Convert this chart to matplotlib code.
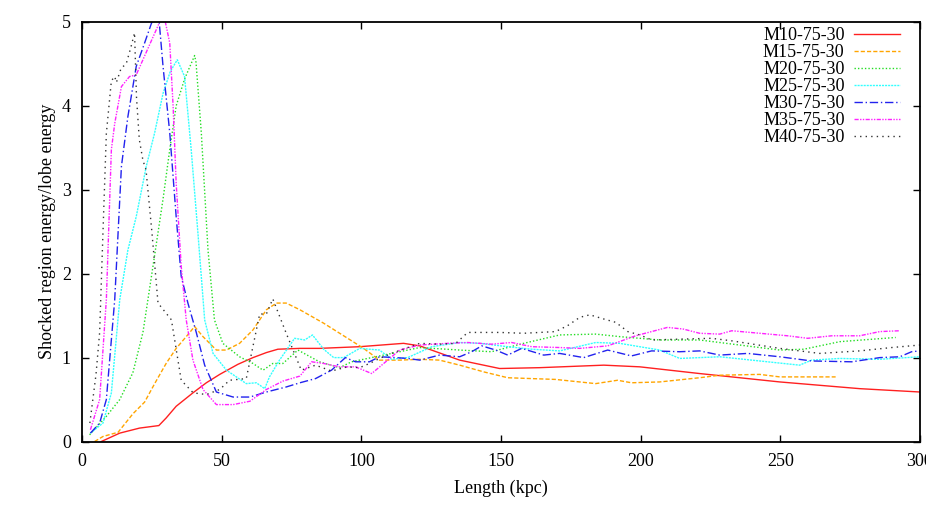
import matplotlib
matplotlib.use("Agg")
import matplotlib.pyplot as plt

plt.rcParams['font.family'] = ['Liberation Serif', 'DejaVu Serif']

labels = ["M10-75-30", "M15-75-30", "M20-75-30", "M25-75-30",
          "M30-75-30", "M35-75-30", "M40-75-30"]

# M10-75-30
x10 = [6.9, 13.5, 20.6, 27.5, 30.1, 33.7, 39.7, 44.5, 49.3, 55.8, 61.2, 66, 70.1, 78, 85,
       99.4, 115.1, 120.9, 135.2, 149.5, 163.8, 186.8, 199.7, 221.1, 249.8, 278.4, 300]
y10 = [0, 0.10, 0.16, 0.19, 0.28, 0.42, 0.58, 0.70, 0.80, 0.92, 1.0, 1.06, 1.10, 1.11, 1.11,
       1.13, 1.17, 1.14, 0.97, 0.87, 0.88, 0.91, 0.89, 0.81, 0.71, 0.63, 0.59]

# M15-75-30
x15 = [4.5, 7.5, 12.9, 18.2, 22.4, 26, 30.1, 33.7, 37.3, 40.3, 43.3, 48.1, 51.7, 56.4, 61.2,
       66, 69.6, 73.1, 78, 86.5, 95.1, 100.8, 106.5, 113.7, 120.9, 128, 135.2, 143.8, 152.4,
       169.5, 183.9, 191.7, 196.7, 206.8, 221.1, 228.3, 242.6, 249.8, 269.8]
y15 = [0, 0.06, 0.11, 0.33, 0.47, 0.69, 0.93, 1.11, 1.25, 1.37, 1.25, 1.09, 1.09, 1.17, 1.33,
       1.57, 1.65, 1.65, 1.57, 1.41, 1.23, 1.11, 0.97, 0.97, 0.98, 0.97, 0.91, 0.83, 0.76,
       0.74, 0.69, 0.73, 0.70, 0.71, 0.76, 0.79, 0.80, 0.77, 0.77]

# M20-75-30
x20 = [2.7, 8.7, 13.5, 18.2, 21.8, 25.4, 29, 31.4, 33.7, 36.7, 40.3, 40.8, 42.7, 45.1, 47.4,
       50.4, 56.4, 61.2, 64.8, 68.3, 71.9, 77.3, 85, 92.2, 96.5, 106.5, 120.9, 135.2, 146.6,
       158.1, 171, 183.9, 192.5, 206.8, 221.1, 235.4, 249.8, 258.4, 271.3, 291.3]
y20 = [0.08, 0.30, 0.50, 0.82, 1.30, 2.09, 2.89, 3.48, 4.0, 4.32, 4.6, 4.52, 3.68, 2.28, 1.45,
       1.17, 1.01, 0.93, 0.85, 0.93, 0.93, 1.09, 0.95, 0.88, 0.95, 1.02, 1.12, 1.09, 1.07,
       1.17, 1.27, 1.28, 1.25, 1.21, 1.21, 1.15, 1.09, 1.10, 1.19, 1.24]

# M25-75-30
x25 = [3, 7.5, 10.5, 13.5, 16.4, 19.4, 23, 26, 29, 31.6, 34.1, 36.7, 39.1, 41.5, 43.9, 46.9,
       51.7, 58.8, 62.4, 65.4, 67.1, 70.7, 76.1, 79.7, 82.5, 86.5, 90.1, 93.7, 99.4, 106.5,
       110.8, 116.6, 125.2, 135.2, 142.4, 152.4, 161, 171, 183.9, 192.5, 206.8, 214, 228.3,
       242.6, 256.9, 261.2, 271.3, 285.6, 300]
y25 = [0.1, 0.22, 0.58, 1.69, 2.28, 2.68, 3.28, 3.68, 4.15, 4.41, 4.55, 4.35, 3.47, 2.48, 1.45,
       1.05, 0.85, 0.69, 0.70, 0.63, 0.77, 0.97, 1.23, 1.21, 1.27, 1.10, 1.0, 1.0, 1.11, 1.09,
       0.98, 1.0, 1.13, 1.18, 1.17, 1.13, 1.10, 1.08, 1.18, 1.17, 1.09, 0.99, 1.01,
       0.96, 0.91, 0.97, 0.99, 0.98, 1.01]

# M30-75-30
x30 = [3, 6.3, 8.7, 11.7, 14.1, 16.4, 19.4, 22.4, 24.8, 26.5, 27.5, 29, 31.4, 33.7, 35.5,
       37.9, 40.9, 43.9, 48.1, 54.1, 60.1, 66, 73.1, 78, 83.6, 89.3, 94.3, 97.9, 102.9, 106.5,
       112.3, 116.6, 120.9, 128, 135.2, 139.5, 143.1, 148.1, 152.4, 157.4, 165.3, 171, 179.6,
       188.2, 196.7, 203.9, 214, 221.1, 228.3, 238.3, 249.8, 261.2, 275.6, 285.6, 292.8, 297,
       300]
y30 = [0.10, 0.22, 0.50, 1.69, 3.28, 3.87, 4.47, 4.75, 4.98, 5.1, 5.05, 4.47, 3.68, 2.68, 1.97,
       1.65, 1.30, 0.91, 0.59, 0.53, 0.53, 0.59, 0.65, 0.70, 0.75, 0.85, 1.0, 0.95, 0.95, 1.01,
       1.0, 0.99, 0.97, 1.03, 1.01, 1.07, 1.14, 1.09, 1.03, 1.11, 1.03, 1.05, 1.0,
       1.09, 1.02, 1.08, 1.07, 1.08, 1.03, 1.05, 1.01, 0.96, 0.95, 1.0, 1.01, 1.07,
       1.08]

# M35-75-30
x35 = [3, 6.3, 8.7, 10.5, 11.7, 14.1, 17, 19.4, 21.8, 25.4, 27.8, 29.5, 31.4, 32.6, 33.7, 35.5,
       37.3, 39.7, 43.3, 48.1, 54.1, 60.1, 66, 71.9, 78, 82.2, 86.5, 92.2, 97.9, 103.7, 108,
       113.7, 120.9, 130.9, 138.1, 146.6, 153.8, 161, 171, 178.2, 188.2, 198.2, 209.6, 215.3,
       221.1, 228.3, 232.6, 242.6, 252.6, 259.8, 268.4, 278.4, 285.6, 292.7]
y35 = [0.14, 0.5, 1.69, 3.48, 3.79, 4.23, 4.35, 4.37, 4.55, 4.82, 5.0, 5.05, 4.75, 4.0, 3.08, 2.09,
       1.45, 0.97, 0.62, 0.44, 0.44, 0.48, 0.62, 0.72, 0.78, 0.95, 0.93, 0.89, 0.89, 0.81, 0.93,
       1.09, 1.15, 1.17, 1.18, 1.16, 1.18, 1.13, 1.12, 1.11, 1.14, 1.26, 1.36, 1.34,
       1.29, 1.28, 1.32, 1.29, 1.26, 1.23, 1.26, 1.26, 1.31, 1.32]

# M40-75-30
x40 = [2.8, 5, 6.3, 7.5, 8.7, 10.5, 11.7, 12.3, 14, 15.8, 17.5, 18.8, 19.5, 20.5, 21.8, 22.9,
       25, 27.2, 32, 35.5, 39.8, 44.5, 49.3, 52.8, 58.8, 63.6, 66, 68.3, 73.1, 78.5, 83.6,
       89.3, 95, 99.4, 102.9, 106.5, 110.8, 116.6, 120.9, 128, 133.8, 138.1, 149.5, 158.1,
       169.5, 173.8, 178.2, 181.8, 186.8, 191.1, 195.4, 199.7, 204, 214, 225.4, 232.6, 249.8,
       264.1, 278.4, 289.9, 300]
y40 = [0.22, 0.8, 1.3, 2.5, 3.67, 4.3, 4.35, 4.28, 4.45, 4.5, 4.7, 4.87, 4.1, 3.6, 3.35, 3.24,
       2.5, 1.65, 1.45, 0.73, 0.58, 0.56, 0.62, 0.73, 0.75, 1.52, 1.52, 1.70, 1.29, 0.85, 0.91,
       0.84, 0.89, 0.88, 0.93, 0.99, 1.05, 1.12, 1.17, 1.16, 1.17, 1.30, 1.30, 1.29,
       1.31, 1.38, 1.48, 1.51, 1.46, 1.42, 1.31, 1.27, 1.21, 1.22, 1.23, 1.20, 1.11,
       1.05, 1.08, 1.12, 1.15]

xs = [x10, x15, x20, x25, x30, x35, x40]
ys = [y10, y15, y20, y25, y30, y35, y40]
colors = ["#ff2020", "#ffa500", "#22dd22", "#33ffff", "#2222ee", "#ff22ff", "#333333"]
dashes = ["-", (0, (3, 1.5)), (0, (1, 1.5)), (0, (1.5, 0.7)), (0, (6, 2, 1, 2)),
          (0, (3, 1, 1, 1, 1, 1)), (0, (1, 3))]

fig = plt.figure(figsize=(9.26, 5.15), dpi=100)
ax = fig.add_axes([0.0886, 0.1427, 0.9049, 0.8146])

for x, y, c, ls, lab in zip(xs, ys, colors, dashes, labels):
    ax.plot(x, y, color=c, linestyle=ls, linewidth=1.0, label=lab)

ax.set_xlim(0, 300)
ax.set_ylim(0, 5)
ax.set_xticks(range(0, 301, 50))
ax.set_yticks(range(0, 6))
ax.tick_params(direction="in", length=5, width=1, top=True, right=True, labelsize=13, pad=8)
for s in ax.spines.values():
    s.set_linewidth(1.3)

ax.set_xlabel("Length (kpc)", fontsize=13, labelpad=7)
ax.set_ylabel("Shocked region energy/lobe energy", fontsize=13, labelpad=4)

ax.legend(loc="upper right", bbox_to_anchor=(0.9757, 0.987), frameon=False, markerfirst=False,
          fontsize=13, handlelength=2.5, labelspacing=0.0, handletextpad=0.55,
          borderaxespad=0, borderpad=0)

fig.savefig("out.png", dpi=100)
